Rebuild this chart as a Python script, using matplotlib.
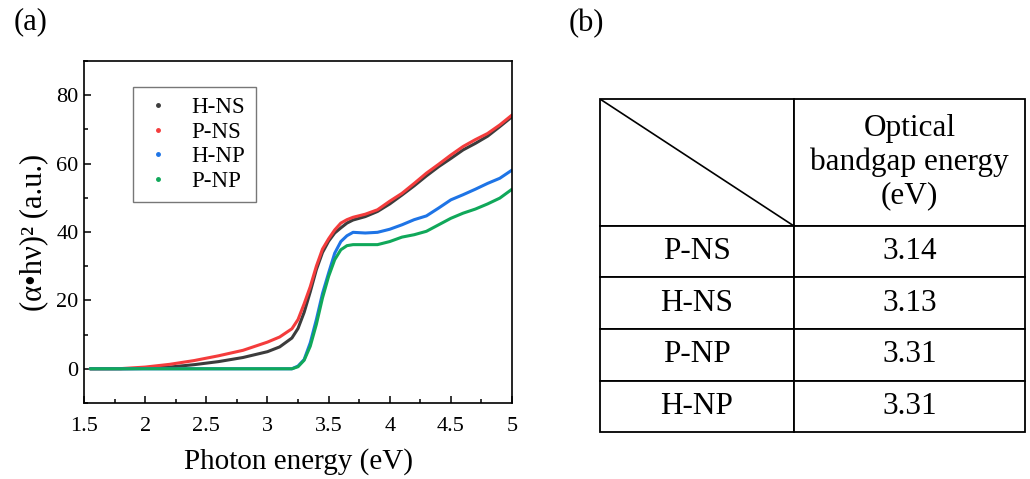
import matplotlib.pyplot as plt
import matplotlib.lines as mlines

plt.rcParams['font.family'] = ['Liberation Serif', 'DejaVu Serif']

# Photon energy grid (eV)
energy = [1.55, 1.8, 2.0, 2.2, 2.4, 2.6, 2.8, 3.0, 3.1, 3.2, 3.25, 3.3, 3.35, 3.4, 3.45,
          3.5, 3.55, 3.6, 3.65, 3.7, 3.8, 3.9, 4.0, 4.1, 4.2, 4.3, 4.4, 4.5, 4.6, 4.7,
          4.8, 4.9, 5.0]

# (alpha*hv)^2 for each sample
h_ns = [0, 0, 0.1, 0.5, 1.2, 2.1, 3.3, 5.0, 6.4, 9.0, 11.8, 16.5, 22.5, 29, 34,
        37.3, 39.7, 41.2, 42.6, 43.5, 44.5, 46, 48.2, 50.8, 53.5, 56.4, 59.1, 61.5, 64, 65.9,
        68, 70.8, 73.7]
p_ns = [0, 0.05, 0.5, 1.3, 2.4, 3.8, 5.4, 7.8, 9.3, 11.7, 14.4, 19, 24, 30, 35,
        38, 40.6, 42.6, 43.6, 44.3, 45.2, 46.5, 49, 51.3, 54.2, 57.2, 59.8, 62.5, 65, 67,
        68.8, 71.3, 74.2]
h_np = [0, 0, 0, 0, 0, 0, 0, 0, 0, 0, 0.8, 2.7, 7.6, 14.4, 22,
        28, 33.8, 37.2, 38.9, 39.9, 39.7, 39.9, 40.8, 42.1, 43.6, 44.7, 47, 49.4, 50.9, 52.5,
        54.2, 55.7, 58.1]
p_np = [0, 0, 0, 0, 0, 0, 0, 0, 0, 0, 0.6, 2.5, 6.6, 13, 20.7,
        27, 31.9, 34.8, 36, 36.3, 36.3, 36.3, 37.2, 38.5, 39.2, 40.2, 42.1, 44, 45.5, 46.7,
        48.2, 49.9, 52.5]

# Table (b)
samples = ['P-NS', 'H-NS', 'P-NP', 'H-NP']
bandgaps = ['3.14', '3.13', '3.31', '3.31']

colors = {'H-NS': '#3c3c3c', 'P-NS': '#f43c3c', 'H-NP': '#1e74e6', 'P-NP': '#10a85a'}
series = [('H-NS', h_ns), ('P-NS', p_ns), ('H-NP', h_np), ('P-NP', p_np)]

fig = plt.figure(figsize=(10.3, 4.79), dpi=100)
ax = fig.add_axes([0.0816, 0.1587, 0.4155, 0.714])

for name, vals in series:
    ax.plot(energy, vals, color=colors[name], lw=2.2, solid_capstyle='round')

ax.set_xlim(1.5, 5)
ax.set_ylim(-10, 90)
ax.set_xticks([1.5, 2, 2.5, 3, 3.5, 4, 4.5, 5])
ax.set_xticklabels(['1.5', '2', '2.5', '3', '3.5', '4', '4.5', '5'])
ax.set_xticks([1.75, 2.25, 2.75, 3.25, 3.75, 4.25, 4.75], minor=True)
ax.set_yticks([0, 20, 40, 60, 80])
ax.set_yticks([-10, 10, 30, 50, 70, 90], minor=True)
ax.tick_params(which='both', direction='in', top=False, right=False, labelsize=16, width=1.1)
ax.tick_params(which='major', length=5, pad=4)
ax.tick_params(which='minor', length=3)
ax.tick_params(axis='x', which='major', pad=10)
for sp in ax.spines.values():
    sp.set_linewidth(1.2)

ax.set_xlabel('Photon energy (eV)', fontsize=21, labelpad=9)
ax.set_ylabel('(α•hν)² (a.u.)', fontsize=22, labelpad=6)

handles = [mlines.Line2D([], [], color=colors[n], marker='o', markersize=2.5, linestyle='None', label=n)
           for n, _ in series]
leg = ax.legend(handles=handles, loc='upper left', bbox_to_anchor=(0.1145, 0.924), borderaxespad=0,
                fontsize=16.5, frameon=True, fancybox=False, edgecolor='#555555',
                handlelength=1.3, handletextpad=0.8, labelspacing=0.15, borderpad=0.45)
leg.get_frame().set_linewidth(1.0)

fig.text(0.013, 0.955, '(a)', fontsize=22, va='center', ha='left')
fig.text(0.552, 0.951, '(b)', fontsize=22, va='center', ha='left')

# Table panel
tax = fig.add_axes([0.5825, 0.0981, 0.4126, 0.6952])
tax.axis('off')
cell_text = [[s, b] for s, b in zip(samples, bandgaps)]
tbl = tax.table(cellText=cell_text, colLabels=['', 'Optical\nbandgap energy\n(eV)'],
                cellLoc='center', colWidths=[0.4565, 0.5435], bbox=[0, 0, 1, 1])
tbl.auto_set_font_size(False)
header_h = 0.3814
row_h = 0.1547
for (r, c), cell in tbl.get_celld().items():
    cell.set_linewidth(1.3)
    cell.set_edgecolor('black')
    cell.get_text().set_fontsize(22.5)
    cell.set_height(header_h if r == 0 else row_h)
tax.plot([0, 0.4565], [1, 1 - header_h], color='black', lw=1.2, transform=tax.transAxes)

fig.savefig('out.png', dpi=100)
